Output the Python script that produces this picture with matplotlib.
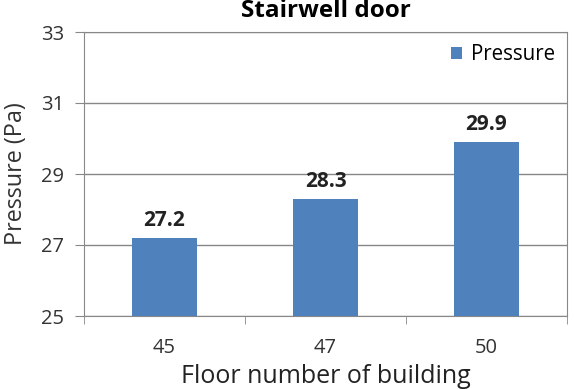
import numpy as np
import matplotlib.pyplot as plt

floors = ['45', '47', '50']
pressure = [27.2, 28.3, 29.9]
yticks = [25, 27, 29, 31, 33]

plt.rcParams['font.family'] = ['Open Sans', 'DejaVu Sans']

fig = plt.figure(figsize=(5.74, 3.89), dpi=100)
ax = fig.add_axes([84 / 574, 1 - 316 / 389, (567 - 84) / 574, (316 - 32) / 389])

x = np.arange(len(floors))
bars = ax.bar(x, pressure, width=0.4, color='#4F81BD', label='Pressure', zorder=3)
for b, v in zip(bars, pressure):
    ax.text(b.get_x() + b.get_width() / 2, v + 0.2, f'{v:.1f}', ha='center', va='bottom',
            fontsize=15, fontweight='bold', color='#222222')

ax.set_xlim(-0.5, 2.5)
ax.set_ylim(25, 33)
ax.set_yticks(yticks)
ax.set_xticks(x)
ax.set_xticklabels(floors)
ax.set_xticks([-0.5, 0.5, 1.5, 2.5], minor=True)
ax.tick_params(axis='x', which='major', length=0, pad=16, labelsize=14.5, labelcolor='#333333')
ax.tick_params(axis='x', which='minor', length=6, color='#888888')
ax.tick_params(axis='y', length=6.5, color='#888888', labelsize=14.5, labelcolor='#333333', pad=8)
ax.grid(axis='y', color='#878787', linewidth=1, zorder=0)
for s in ax.spines.values():
    s.set_color('#888888')

ax.set_xlabel('Floor number of building', fontsize=18, color='#222222', labelpad=4)
ax.set_ylabel('Pressure (Pa)', fontsize=16.8, color='#333333', labelpad=9)
ax.set_title('Stairwell door', fontsize=17.5, fontweight='bold', pad=11)
ax.legend(loc='upper right', frameon=False, fontsize=14.8, handlelength=0.55, handleheight=0.55,
          handletextpad=0.4, borderaxespad=0.2)

fig.savefig('out.png', dpi=100)
